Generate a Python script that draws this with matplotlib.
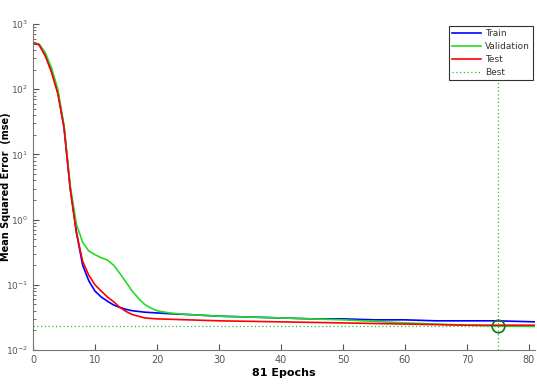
import numpy as np
import matplotlib
matplotlib.use("Agg")
import matplotlib.pyplot as plt

# values (performance plot, log scale)
train_ep = [0, 1, 2, 3, 4, 5, 6, 7, 8, 9, 10, 11, 12, 13, 14, 15, 16, 17, 18, 20, 22, 25,
            30, 35, 40, 45, 50, 55, 60, 65, 70, 75, 81]
train_mse = [520, 480, 330, 190, 90, 26, 3.0, 0.65, 0.2, 0.115, 0.08, 0.065, 0.056, 0.049,
             0.045, 0.042, 0.040, 0.039, 0.038, 0.037, 0.036, 0.035, 0.033, 0.032, 0.031,
             0.030, 0.030, 0.029, 0.029, 0.028, 0.028, 0.028, 0.027]

val_ep = [0, 1, 2, 3, 4, 5, 6, 7, 8, 9, 10, 11, 12, 13, 14, 15, 16, 17, 18, 19, 20, 22,
          25, 30, 35, 40, 50, 60, 65, 70, 75, 81]
val_mse = [520, 490, 360, 210, 100, 28, 3.3, 0.85, 0.45, 0.33, 0.29, 0.26, 0.24, 0.20,
           0.15, 0.11, 0.08, 0.062, 0.05, 0.044, 0.040, 0.037, 0.035, 0.033, 0.032, 0.031,
           0.029, 0.026, 0.025, 0.024, 0.0232, 0.023]

test_ep = [0, 1, 2, 3, 4, 5, 6, 7, 8, 9, 10, 11, 12, 13, 14, 15, 16, 17, 18, 20, 25, 30,
           40, 50, 60, 70, 81]
test_mse = [520, 480, 320, 180, 85, 26, 3.0, 0.62, 0.23, 0.14, 0.10, 0.08, 0.065, 0.055,
            0.045, 0.039, 0.035, 0.033, 0.031, 0.030, 0.029, 0.028, 0.027, 0.026, 0.025,
            0.024, 0.024]

best_epoch = 75
best_mse = 0.0232

fig = plt.figure(figsize=(5.37, 3.88), dpi=100)
ax = fig.add_axes([0.0615, 0.098, 0.935, 0.840])

ax.semilogy(train_ep, train_mse, color="#0000ff", lw=1.2, label="Train")
ax.semilogy(val_ep, val_mse, color="#22dd22", lw=1.2, label="Validation")
ax.semilogy(test_ep, test_mse, color="#ff0000", lw=1.2, label="Test")
ax.axhline(best_mse, color="#33bb33", lw=0.9, ls=(0, (1, 2)), label="Best")
ax.axvline(best_epoch, color="#33bb33", lw=0.9, ls=(0, (1, 2)))
ax.plot(best_epoch, best_mse, "o", mfc="none", mec="#117711", ms=9, mew=1.2)

ax.set_xlim(0, 81)
ax.set_ylim(1e-2, 1e3)
ax.set_xticks(range(0, 81, 10))
ax.tick_params(which="both", direction="in", colors="#555555", labelsize=7)
ax.tick_params(axis="y", labelsize=6.5)
ax.tick_params(which="major", length=4)
ax.tick_params(which="minor", length=2)
for s in ["top", "right"]:
    ax.spines[s].set_visible(False)
for s in ["left", "bottom"]:
    ax.spines[s].set_color("#777777")

ax.set_xlabel("81 Epochs", fontsize=8, fontweight="bold", labelpad=2)
ax.set_ylabel("Mean Squared Error  (mse)", fontsize=7, fontweight="bold")
ax.yaxis.set_label_coords(-0.044, 0.5)

leg = ax.legend(loc="upper right", fontsize=6.5, fancybox=False, edgecolor="#333333",
                framealpha=1, borderaxespad=0.1, handlelength=3.2, borderpad=0.35,
                labelspacing=0.45, handletextpad=0.4, bbox_to_anchor=(0.997, 0.998))
leg.get_frame().set_linewidth(0.8)
for t in leg.get_texts():
    t.set_color("#333333")

fig.savefig("out.png", dpi=100)
